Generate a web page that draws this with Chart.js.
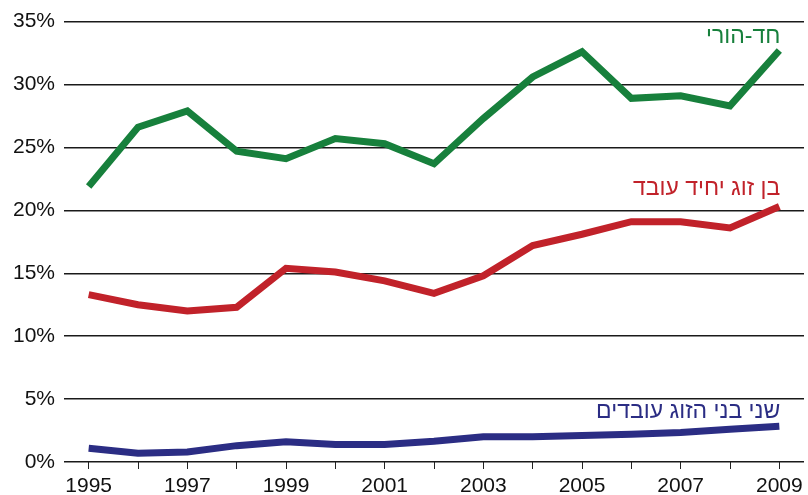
<!DOCTYPE html>
<html>
<head>
<meta charset="utf-8">
<script src="https://cdn.jsdelivr.net/npm/chart.js@4/dist/chart.umd.min.js"></script>
<style>
    html, body { margin: 0; padding: 0; background: #fff; }
    #wrap { width: 808px; height: 495px; position: relative; }
</style>
</head>
<body>
<div id="wrap"><canvas id="familyChart"></canvas></div>
<script>
const years = ['1995', '1996', '1997', '1998', '1999', '2000', '2001', '2002',
    '2003', '2004', '2005', '2006', '2007', '2008', '2009'];

// share of poor families by family type (%)
const singleParent = [21.9, 26.6, 27.9, 24.7, 24.1, 25.7, 25.3, 23.7, 27.3, 30.6, 32.6, 28.9, 29.1, 28.3, 32.7];
const oneEarner = [13.3, 12.5, 12.0, 12.3, 15.4, 15.1, 14.4, 13.4, 14.8, 17.2, 18.1, 19.1, 19.1, 18.6, 20.3];
const twoEarners = [1.1, 0.7, 0.8, 1.3, 1.6, 1.4, 1.4, 1.65, 2.0, 2.0, 2.1, 2.2, 2.35, 2.6, 2.85];

const seriesNames = ['חד-הורי', 'בן זוג יחיד עובד', 'שני בני הזוג עובדים'];
const seriesColors = ['#17803c', '#c1222a', '#2b2d84'];
const yTicks = [0, 5, 10, 15, 20, 25, 30, 35];

// where each series name sits (value on y axis of its baseline)
const labelBaselines = [33.3, 21.2, 3.5];

const seriesLabels = {
    id: 'seriesLabels',
    afterDatasetsDraw(chart) {
        const { ctx, scales } = chart;
        const x = scales.x.getPixelForValue(years.length - 1);
        ctx.save();
        ctx.font = '23px "Liberation Sans", Arial, sans-serif';
        ctx.direction = 'rtl';
        ctx.textAlign = 'right';
        ctx.textBaseline = 'alphabetic';
        seriesNames.forEach((name, i) => {
            ctx.fillStyle = seriesColors[i];
            ctx.fillText(name, x + 1, scales.y.getPixelForValue(labelBaselines[i]));
        });
        ctx.restore();
    }
};

const ctx = document.getElementById('familyChart').getContext('2d');

new Chart(ctx, {
    type: 'line',
    data: {
        labels: years,
        datasets: [singleParent, oneEarner, twoEarners].map((values, i) => ({
            label: seriesNames[i],
            data: values,
            borderColor: seriesColors[i],
            borderWidth: 7,
            pointRadius: 0,
            tension: 0,
            fill: false,
            borderJoinStyle: 'miter',
            borderCapStyle: 'butt'
        }))
    },
    options: {
        responsive: true,
        maintainAspectRatio: false,
        animation: false,
        layout: { padding: { top: 20, right: 4, left: 0, bottom: 0 } },
        scales: {
            x: {
                type: 'category',
                offset: true,
                grid: {
                    offset: false,
                    drawOnChartArea: false,
                    drawTicks: true,
                    tickLength: 7,
                    color: '#222',
                    lineWidth: 1
                },
                border: { display: false },
                ticks: {
                    autoSkip: false,
                    maxRotation: 0,
                    padding: 5,
                    color: '#111',
                    font: { family: '"Liberation Sans", Arial, sans-serif', size: 21 },
                    callback: (v, i) => (i % 2 === 0 ? years[i] : '')
                },
                afterFit: scale => { scale.height = 33; }
            },
            y: {
                min: 0,
                max: 35,
                afterBuildTicks: scale => { scale.ticks = yTicks.map(v => ({ value: v })); },
                grid: {
                    drawTicks: false,
                    color: '#1a1a1a',
                    lineWidth: 1.5
                },
                border: { display: false },
                ticks: {
                    padding: 9,
                    color: '#111',
                    font: { family: '"Liberation Sans", Arial, sans-serif', size: 21 },
                    callback: v => v + '%'
                },
                afterFit: scale => { scale.width = 64; }
            }
        },
        plugins: {
            legend: { display: false },
            tooltip: { enabled: false }
        }
    },
    plugins: [seriesLabels]
});
</script>
</body>
</html>
